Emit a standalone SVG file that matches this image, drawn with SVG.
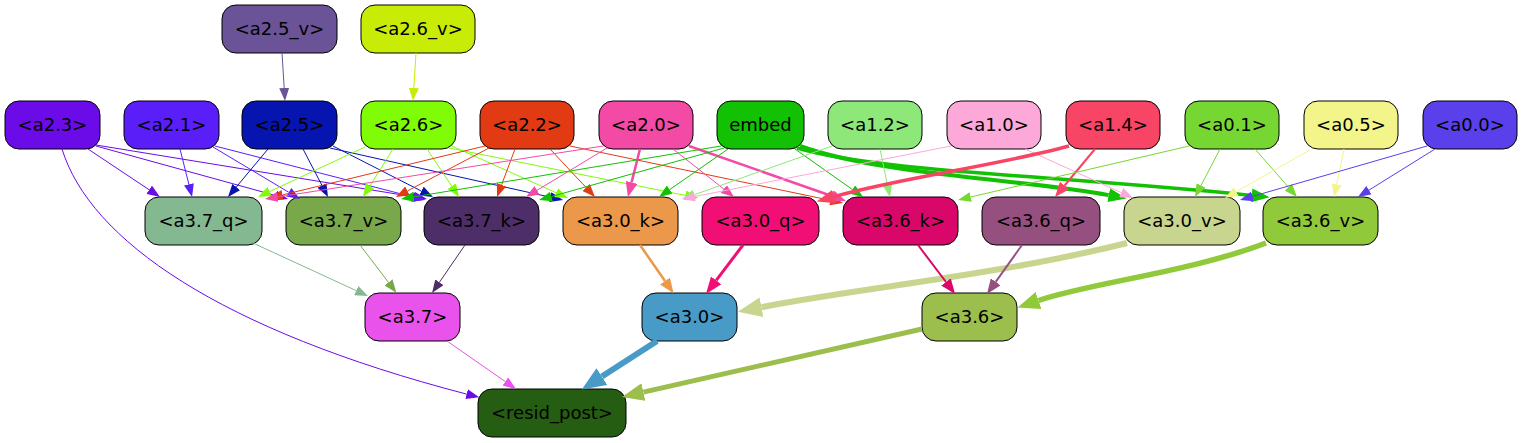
<svg xmlns="http://www.w3.org/2000/svg" width="1521" height="443" viewBox="0 0 1521 443">
<style>
.n rect{stroke:#000;stroke-width:1}
.n text{font-family:"DejaVu Sans","Liberation Sans",sans-serif;font-size:18px;text-anchor:middle;fill:#000}
#edges path{fill:none}
</style>
<defs>
<marker id="m-a23" viewBox="0 0 13 10" refX="0" refY="5" markerWidth="13" markerHeight="10" markerUnits="userSpaceOnUse" orient="auto"><path d="M0,0L13,5L0,10z" fill="#6a0be8"/></marker>
<marker id="m-a21" viewBox="0 0 13 10" refX="0" refY="5" markerWidth="13" markerHeight="10" markerUnits="userSpaceOnUse" orient="auto"><path d="M0,0L13,5L0,10z" fill="#5a1ff9"/></marker>
<marker id="m-a25" viewBox="0 0 13 10" refX="0" refY="5" markerWidth="13" markerHeight="10" markerUnits="userSpaceOnUse" orient="auto"><path d="M0,0L13,5L0,10z" fill="#0614b0"/></marker>
<marker id="m-a26" viewBox="0 0 13 10" refX="0" refY="5" markerWidth="13" markerHeight="10" markerUnits="userSpaceOnUse" orient="auto"><path d="M0,0L13,5L0,10z" fill="#80fc06"/></marker>
<marker id="m-a22" viewBox="0 0 13 10" refX="0" refY="5" markerWidth="13" markerHeight="10" markerUnits="userSpaceOnUse" orient="auto"><path d="M0,0L13,5L0,10z" fill="#e23a13"/></marker>
<marker id="m-a20" viewBox="0 0 13 10" refX="0" refY="5" markerWidth="13" markerHeight="10" markerUnits="userSpaceOnUse" orient="auto"><path d="M0,0L13,5L0,10z" fill="#f24aa5"/></marker>
<marker id="m-a20m" viewBox="0 0 15 12" refX="0" refY="6" markerWidth="15" markerHeight="12" markerUnits="userSpaceOnUse" orient="auto"><path d="M0,0L15,6L0,12z" fill="#f24aa5"/></marker>
<marker id="m-emb" viewBox="0 0 13 10" refX="0" refY="5" markerWidth="13" markerHeight="10" markerUnits="userSpaceOnUse" orient="auto"><path d="M0,0L13,5L0,10z" fill="#12c103"/></marker>
<marker id="m-embk" viewBox="0 0 18 14" refX="0" refY="7" markerWidth="18" markerHeight="14" markerUnits="userSpaceOnUse" orient="auto"><path d="M0,0L18,7L0,14z" fill="#12c103"/></marker>
<marker id="m-a12" viewBox="0 0 13 10" refX="0" refY="5" markerWidth="13" markerHeight="10" markerUnits="userSpaceOnUse" orient="auto"><path d="M0,0L13,5L0,10z" fill="#8ee779"/></marker>
<marker id="m-a10" viewBox="0 0 13 10" refX="0" refY="5" markerWidth="13" markerHeight="10" markerUnits="userSpaceOnUse" orient="auto"><path d="M0,0L13,5L0,10z" fill="#fca8d8"/></marker>
<marker id="m-a14" viewBox="0 0 18 14" refX="0" refY="7" markerWidth="18" markerHeight="14" markerUnits="userSpaceOnUse" orient="auto"><path d="M0,0L18,7L0,14z" fill="#f84465"/></marker>
<marker id="m-a14m" viewBox="0 0 15 12" refX="0" refY="6" markerWidth="15" markerHeight="12" markerUnits="userSpaceOnUse" orient="auto"><path d="M0,0L15,6L0,12z" fill="#f84465"/></marker>
<marker id="m-a01" viewBox="0 0 13 10" refX="0" refY="5" markerWidth="13" markerHeight="10" markerUnits="userSpaceOnUse" orient="auto"><path d="M0,0L13,5L0,10z" fill="#76d732"/></marker>
<marker id="m-a05" viewBox="0 0 13 10" refX="0" refY="5" markerWidth="13" markerHeight="10" markerUnits="userSpaceOnUse" orient="auto"><path d="M0,0L13,5L0,10z" fill="#f3f58a"/></marker>
<marker id="m-a00" viewBox="0 0 13 10" refX="0" refY="5" markerWidth="13" markerHeight="10" markerUnits="userSpaceOnUse" orient="auto"><path d="M0,0L13,5L0,10z" fill="#5940ea"/></marker>
<marker id="m-a25v" viewBox="0 0 13 10" refX="0" refY="5" markerWidth="13" markerHeight="10" markerUnits="userSpaceOnUse" orient="auto"><path d="M0,0L13,5L0,10z" fill="#6a5396"/></marker>
<marker id="m-a26v" viewBox="0 0 13 10" refX="0" refY="5" markerWidth="13" markerHeight="10" markerUnits="userSpaceOnUse" orient="auto"><path d="M0,0L13,5L0,10z" fill="#c9ec07"/></marker>
<marker id="m-37q" viewBox="0 0 13 10" refX="0" refY="5" markerWidth="13" markerHeight="10" markerUnits="userSpaceOnUse" orient="auto"><path d="M0,0L13,5L0,10z" fill="#84b890"/></marker>
<marker id="m-37v" viewBox="0 0 13 10" refX="0" refY="5" markerWidth="13" markerHeight="10" markerUnits="userSpaceOnUse" orient="auto"><path d="M0,0L13,5L0,10z" fill="#79a84a"/></marker>
<marker id="m-37k" viewBox="0 0 13 10" refX="0" refY="5" markerWidth="13" markerHeight="10" markerUnits="userSpaceOnUse" orient="auto"><path d="M0,0L13,5L0,10z" fill="#4e2e68"/></marker>
<marker id="m-30k" viewBox="0 0 15 12" refX="0" refY="6" markerWidth="15" markerHeight="12" markerUnits="userSpaceOnUse" orient="auto"><path d="M0,0L15,6L0,12z" fill="#eb984b"/></marker>
<marker id="m-30q" viewBox="0 0 17 13" refX="0" refY="6.5" markerWidth="17" markerHeight="13" markerUnits="userSpaceOnUse" orient="auto"><path d="M0,0L17,6.5L0,13z" fill="#f20f75"/></marker>
<marker id="m-30v" viewBox="0 0 24 20" refX="0" refY="10" markerWidth="24" markerHeight="20" markerUnits="userSpaceOnUse" orient="auto"><path d="M0,0L24,10L0,20z" fill="#c7d58e"/></marker>
<marker id="m-36k" viewBox="0 0 15 12" refX="0" refY="6" markerWidth="15" markerHeight="12" markerUnits="userSpaceOnUse" orient="auto"><path d="M0,0L15,6L0,12z" fill="#d80769"/></marker>
<marker id="m-36q" viewBox="0 0 15 12" refX="0" refY="6" markerWidth="15" markerHeight="12" markerUnits="userSpaceOnUse" orient="auto"><path d="M0,0L15,6L0,12z" fill="#965080"/></marker>
<marker id="m-36v" viewBox="0 0 22 18" refX="0" refY="9" markerWidth="22" markerHeight="18" markerUnits="userSpaceOnUse" orient="auto"><path d="M0,0L22,9L0,18z" fill="#90c93a"/></marker>
<marker id="m-37" viewBox="0 0 13 10" refX="0" refY="5" markerWidth="13" markerHeight="10" markerUnits="userSpaceOnUse" orient="auto"><path d="M0,0L13,5L0,10z" fill="#e953ec"/></marker>
<marker id="m-30" viewBox="0 0 24 20" refX="0" refY="10" markerWidth="24" markerHeight="20" markerUnits="userSpaceOnUse" orient="auto"><path d="M0,0L24,10L0,20z" fill="#489bc6"/></marker>
<marker id="m-36" viewBox="0 0 22 18" refX="0" refY="9" markerWidth="22" markerHeight="18" markerUnits="userSpaceOnUse" orient="auto"><path d="M0,0L22,9L0,18z" fill="#9bbe4c"/></marker>
</defs>
<rect width="1521" height="443" fill="#fff"/>
<g id="nodes">
<g id="a2.5_v" class="n"><rect x="222" y="5" width="115" height="48" rx="14" fill="#6a5396"/><text x="279.5" y="35">&lt;a2.5_v&gt;</text></g>
<g id="a2.6_v" class="n"><rect x="361" y="5" width="114" height="48" rx="14" fill="#c9ec07"/><text x="418" y="35">&lt;a2.6_v&gt;</text></g>
<g id="a2.3" class="n"><rect x="5" y="101" width="95" height="48" rx="14" fill="#6a0be8"/><text x="52.5" y="131">&lt;a2.3&gt;</text></g>
<g id="a2.1" class="n"><rect x="124" y="101" width="95" height="48" rx="14" fill="#5a1ff9"/><text x="171.5" y="131">&lt;a2.1&gt;</text></g>
<g id="a2.5" class="n"><rect x="242" y="101" width="95" height="48" rx="14" fill="#0614b0"/><text x="289.5" y="131">&lt;a2.5&gt;</text></g>
<g id="a2.6" class="n"><rect x="361" y="101" width="95" height="48" rx="14" fill="#80fc06"/><text x="408.5" y="131">&lt;a2.6&gt;</text></g>
<g id="a2.2" class="n"><rect x="480" y="101" width="94" height="48" rx="14" fill="#e23a13"/><text x="527" y="131">&lt;a2.2&gt;</text></g>
<g id="a2.0" class="n"><rect x="599" y="101" width="94" height="48" rx="14" fill="#f24aa5"/><text x="646" y="131">&lt;a2.0&gt;</text></g>
<g id="embed" class="n"><rect x="717" y="101" width="87" height="48" rx="14" fill="#12c103"/><text x="760.5" y="131">embed</text></g>
<g id="a1.2" class="n"><rect x="828" y="101" width="94" height="48" rx="14" fill="#8ee779"/><text x="875" y="131">&lt;a1.2&gt;</text></g>
<g id="a1.0" class="n"><rect x="947" y="101" width="94" height="48" rx="14" fill="#fca8d8"/><text x="994" y="131">&lt;a1.0&gt;</text></g>
<g id="a1.4" class="n"><rect x="1066" y="101" width="94" height="48" rx="14" fill="#f84465"/><text x="1113" y="131">&lt;a1.4&gt;</text></g>
<g id="a0.1" class="n"><rect x="1185" y="101" width="94" height="48" rx="14" fill="#76d732"/><text x="1232" y="131">&lt;a0.1&gt;</text></g>
<g id="a0.5" class="n"><rect x="1304" y="101" width="94" height="48" rx="14" fill="#f3f58a"/><text x="1351" y="131">&lt;a0.5&gt;</text></g>
<g id="a0.0" class="n"><rect x="1423" y="101" width="94" height="48" rx="14" fill="#5940ea"/><text x="1470" y="131">&lt;a0.0&gt;</text></g>
<g id="a3.7_q" class="n"><rect x="145" y="197" width="117" height="48" rx="14" fill="#84b890"/><text x="203.5" y="227">&lt;a3.7_q&gt;</text></g>
<g id="a3.7_v" class="n"><rect x="286" y="197" width="115" height="48" rx="14" fill="#79a84a"/><text x="343.5" y="227">&lt;a3.7_v&gt;</text></g>
<g id="a3.7_k" class="n"><rect x="424" y="197" width="115" height="48" rx="14" fill="#4e2e68"/><text x="481.5" y="227">&lt;a3.7_k&gt;</text></g>
<g id="a3.0_k" class="n"><rect x="563" y="197" width="115" height="48" rx="14" fill="#eb984b"/><text x="620.5" y="227">&lt;a3.0_k&gt;</text></g>
<g id="a3.0_q" class="n"><rect x="702" y="197" width="117" height="48" rx="14" fill="#f20f75"/><text x="760.5" y="227">&lt;a3.0_q&gt;</text></g>
<g id="a3.6_k" class="n"><rect x="843" y="197" width="115" height="48" rx="14" fill="#d80769"/><text x="900.5" y="227">&lt;a3.6_k&gt;</text></g>
<g id="a3.6_q" class="n"><rect x="982" y="197" width="118" height="48" rx="14" fill="#965080"/><text x="1041" y="227">&lt;a3.6_q&gt;</text></g>
<g id="a3.0_v" class="n"><rect x="1124" y="197" width="116" height="48" rx="14" fill="#c7d58e"/><text x="1182" y="227">&lt;a3.0_v&gt;</text></g>
<g id="a3.6_v" class="n"><rect x="1263" y="197" width="115" height="48" rx="14" fill="#90c93a"/><text x="1320.5" y="227">&lt;a3.6_v&gt;</text></g>
<g id="a3.7" class="n"><rect x="365" y="293" width="95" height="48" rx="14" fill="#e953ec"/><text x="412.5" y="323">&lt;a3.7&gt;</text></g>
<g id="a3.0" class="n"><rect x="642" y="293" width="95" height="48" rx="14" fill="#489bc6"/><text x="689.5" y="323">&lt;a3.0&gt;</text></g>
<g id="a3.6" class="n"><rect x="922" y="293" width="95" height="48" rx="14" fill="#9bbe4c"/><text x="969.5" y="323">&lt;a3.6&gt;</text></g>
<g id="resid_post" class="n"><rect x="478" y="389" width="148" height="48" rx="14" fill="#255e12"/><text x="552" y="419">&lt;resid_post&gt;</text></g>
</g>
<g id="edges">
<path d="M282,53 L284.2,88" stroke="#6a5396" marker-end="url(#m-a25v)"/>
<path d="M416,53 L413.8,88" stroke="#c9ec07" marker-end="url(#m-a26v)"/>
<path d="M88,149 L149.2,189.8" stroke="#6a0be8" marker-end="url(#m-a23)"/>
<path d="M96,146 L275.5,195.5" stroke="#6a0be8" marker-end="url(#m-a23)"/>
<path d="M96,145 L414.2,196.9" stroke="#6a0be8" marker-end="url(#m-a23)"/>
<path d="M62,149 C90,240 220,330 466.6,394.1" stroke="#6a0be8" marker-end="url(#m-a23)"/>
<path d="M180,149 L188.9,184.4" stroke="#5a1ff9" marker-end="url(#m-a21)"/>
<path d="M213,147 L288.8,192.3" stroke="#5a1ff9" marker-end="url(#m-a21)"/>
<path d="M215,146 L412.4,196.8" stroke="#5a1ff9" marker-end="url(#m-a21)"/>
<path d="M268,149 L236.3,187" stroke="#0614b0" marker-end="url(#m-a25)"/>
<path d="M303,149 L322,185.5" stroke="#0614b0" marker-end="url(#m-a25)"/>
<path d="M333,146 L421.4,191.1" stroke="#0614b0" marker-end="url(#m-a25)"/>
<path d="M330,148 L550.3,197.2" stroke="#0614b0" marker-end="url(#m-a25)"/>
<path d="M365,147 L269.8,191.5" stroke="#80fc06" marker-end="url(#m-a26)"/>
<path d="M393,149 L369.9,186" stroke="#80fc06" marker-end="url(#m-a26)"/>
<path d="M427,149 L451.8,186.2" stroke="#80fc06" marker-end="url(#m-a26)"/>
<path d="M452,146 L556.1,192.7" stroke="#80fc06" marker-end="url(#m-a26)"/>
<path d="M449,148 L685.3,195.4" stroke="#80fc06" marker-end="url(#m-a26)"/>
<path d="M485,146 L282.6,194.9" stroke="#e23a13" marker-end="url(#m-a22)"/>
<path d="M489,148 L407.5,190.9" stroke="#e23a13" marker-end="url(#m-a22)"/>
<path d="M515,149 L501.6,184.8" stroke="#e23a13" marker-end="url(#m-a22)"/>
<path d="M550,149 L586.1,187.5" stroke="#e23a13" marker-end="url(#m-a22)"/>
<path d="M570,146 L830.3,200.3" stroke="#e23a13" marker-end="url(#m-a22)"/>
<path d="M603,146 L277.8,197" stroke="#f24aa5" marker-end="url(#m-a20)"/>
<path d="M607,148 L537.1,190.3" stroke="#f24aa5" marker-end="url(#m-a20)"/>
<path d="M640,149 L631.6,182.4" stroke="#f24aa5" stroke-width="2.5" marker-end="url(#m-a20m)"/>
<path d="M673,149 L723.8,189" stroke="#f24aa5" marker-end="url(#m-a20)"/>
<path d="M689,146 L831.8,196" stroke="#f24aa5" stroke-width="2.5" marker-end="url(#m-a20m)"/>
<path d="M721,146 L413.8,196.9" stroke="#12c103" marker-end="url(#m-emb)"/>
<path d="M724,148 L551.5,196.5" stroke="#12c103" marker-end="url(#m-emb)"/>
<path d="M728,149 L669.7,189.6" stroke="#12c103" marker-end="url(#m-emb)"/>
<path d="M795,149 L852.4,189.5" stroke="#12c103" marker-end="url(#m-emb)"/>
<path d="M800,146 C880,175 1030,180 1108.7,195.1" stroke="#12c103" stroke-width="4" marker-end="url(#m-embk)"/>
<path d="M797,148 C880,172 1050,175 1251.7,195.4" stroke="#12c103" stroke-width="3.5" marker-end="url(#m-embk)"/>
<path d="M880,149 L887.3,184.3" stroke="#8ee779" marker-end="url(#m-a12)"/>
<path d="M832,146 L694.3,194.7" stroke="#8ee779" marker-end="url(#m-a12)"/>
<path d="M951,146 L694.8,196.5" stroke="#fca8d8" marker-end="url(#m-a10)"/>
<path d="M1025,149 L1121.2,192.6" stroke="#fca8d8" marker-end="url(#m-a10)"/>
<path d="M1069,146 C1000,165 900,178 834.1,196.6" stroke="#f84465" stroke-width="3.5" marker-end="url(#m-a14)"/>
<path d="M1095,149 L1064.6,185.5" stroke="#f84465" stroke-width="2" marker-end="url(#m-a14m)"/>
<path d="M1189,146 L970.7,197" stroke="#76d732" marker-end="url(#m-a01)"/>
<path d="M1220,149 L1201,185.5" stroke="#76d732" marker-end="url(#m-a01)"/>
<path d="M1255,149 L1288.4,187.2" stroke="#76d732" marker-end="url(#m-a01)"/>
<path d="M1310,150 L1236.3,191.6" stroke="#f3f58a" marker-end="url(#m-a05)"/>
<path d="M1344,149 L1336.7,184.3" stroke="#f3f58a" marker-end="url(#m-a05)"/>
<path d="M1427,146 L1252.5,196.4" stroke="#5940ea" marker-end="url(#m-a00)"/>
<path d="M1435,149 L1369,190.1" stroke="#5940ea" marker-end="url(#m-a00)"/>
<path d="M254,243.5 L356.2,290.6" stroke="#84b890" marker-end="url(#m-37q)"/>
<path d="M360,245 L388.5,282.4" stroke="#79a84a" marker-end="url(#m-37v)"/>
<path d="M465,245 L439.4,282.3" stroke="#4e2e68" marker-end="url(#m-37k)"/>
<path d="M640,245 L665,281" stroke="#eb984b" stroke-width="2.5" marker-end="url(#m-30k)"/>
<path d="M743,245 L716.2,280.4" stroke="#f20f75" stroke-width="3" marker-end="url(#m-30q)"/>
<path d="M1127,243 C1000,275 860,288 761.5,307.2" stroke="#c7d58e" stroke-width="6" marker-end="url(#m-30v)"/>
<path d="M918,245 L946,282" stroke="#d80769" stroke-width="2" marker-end="url(#m-36k)"/>
<path d="M1022,245 L995.7,281.8" stroke="#965080" stroke-width="2" marker-end="url(#m-36q)"/>
<path d="M1266,243 C1190,272 1090,283 1038.5,300.5" stroke="#90c93a" stroke-width="5.5" marker-end="url(#m-36v)"/>
<path d="M447,341 L505.3,381.6" stroke="#e953ec" marker-end="url(#m-37)"/>
<path d="M657,341 L601.9,376.6" stroke="#489bc6" stroke-width="6" marker-end="url(#m-30)"/>
<path d="M922,329 L643.4,392.1" stroke="#9bbe4c" stroke-width="5" marker-end="url(#m-36)"/>
</g>
</svg>
